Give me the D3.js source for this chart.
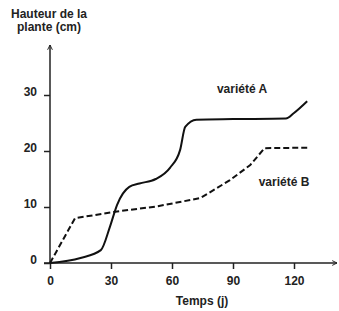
<!DOCTYPE html>
<html>
<head>
<meta charset="utf-8">
<script src="https://cdn.jsdelivr.net/npm/d3@7"></script>
<style>
  body { margin: 0; background: #fff; }
  svg text { font-family: "Liberation Sans", Arial, sans-serif; font-weight: bold; fill: #222; }
  .axis path, .axis line { stroke: #222; stroke-width: 1.5; }
</style>
</head>
<body>
<svg width="339" height="311"></svg>
<script>
// growth of two plant varieties
var daysA   = [0, 15, 25, 29.5, 33, 39, 44, 52, 59, 64, 66.5, 72, 90, 116, 120, 126.5];
var heightA = [0, 0.9, 2.3, 6.5, 10.4, 13.6, 14.2, 15, 17, 20.2, 24.3, 25.6, 25.7, 25.8, 26.8, 28.9];
var daysB   = [0, 12.3, 33, 52.5, 74, 88.5, 98.5, 105.5, 126.5];
var heightB = [0, 8.0, 9.2, 10.1, 11.6, 14.8, 17.5, 20.5, 20.6];
var xTicks = [0, 30, 60, 90, 120];
var yTicks = [0, 10, 20, 30];

var svg = d3.select('svg');

var x = d3.scaleLinear().domain([0, 120]).range([50, 294]);
var y = d3.scaleLinear().domain([0, 30]).range([263, 95]);

// arrow head
svg.append('defs').append('marker')
    .attr('id', 'arrow')
    .attr('viewBox', '0 0 10 10')
    .attr('refX', 9).attr('refY', 5)
    .attr('markerWidth', 6).attr('markerHeight', 6)
    .attr('markerUnits', 'userSpaceOnUse')
    .attr('orient', 'auto')
  .append('path')
    .attr('d', 'M1,1 L9,5 L1,9')
    .attr('fill', 'none')
    .attr('stroke', '#222')
    .attr('stroke-width', 1.6);

var xAxis = svg.append('g')
    .attr('class', 'axis')
    .attr('transform', 'translate(0,' + y(0) + ')')
    .call(d3.axisBottom(x).tickValues(xTicks).tickSize(6).tickPadding(7).tickSizeOuter(0));
xAxis.select('.domain').remove();
xAxis.selectAll('text').style('font-size', '12px');

var yAxis = svg.append('g')
    .attr('class', 'axis')
    .attr('transform', 'translate(' + x(0) + ',0)')
    .call(d3.axisLeft(y).tickValues(yTicks).tickSize(6).tickPadding(7).tickSizeOuter(0));
yAxis.select('.domain').remove();
yAxis.selectAll('text').style('font-size', '12px').attr('dy', '0');

// axis lines with arrows
svg.append('line')
    .attr('x1', 44).attr('y1', y(0))
    .attr('x2', 337).attr('y2', y(0))
    .attr('stroke', '#222').attr('stroke-width', 1.5)
    .attr('marker-end', 'url(#arrow)');
svg.append('line')
    .attr('x1', x(0)).attr('y1', y(0) + 1)
    .attr('x2', x(0)).attr('y2', 45)
    .attr('stroke', '#222').attr('stroke-width', 1.5)
    .attr('marker-end', 'url(#arrow)');

var lineA = d3.line()
    .x(function(d, i) { return x(daysA[i]); })
    .y(function(d) { return y(d); })
    .curve(d3.curveMonotoneX);

var lineB = d3.line()
    .x(function(d, i) { return x(daysB[i]); })
    .y(function(d) { return y(d); })
    .curve(d3.curveLinear);

svg.append('path')
    .attr('d', lineA(heightA))
    .attr('fill', 'none')
    .attr('stroke', '#111')
    .attr('stroke-width', 2);

svg.append('path')
    .attr('d', lineB(heightB))
    .attr('fill', 'none')
    .attr('stroke', '#111')
    .attr('stroke-width', 2)
    .attr('stroke-dasharray', '6,3');

// labels
svg.append('text')
    .attr('x', 242).attr('y', 93)
    .attr('text-anchor', 'middle')
    .style('font-size', '12px')
    .text('variété A');

svg.append('text')
    .attr('x', 284).attr('y', 186)
    .attr('text-anchor', 'middle')
    .style('font-size', '12px')
    .text('variété B');

svg.append('text')
    .attr('x', 202).attr('y', 305)
    .attr('text-anchor', 'middle')
    .style('font-size', '12px')
    .text('Temps (j)');

var title = svg.append('text')
    .attr('x', 49).attr('y', 18)
    .attr('text-anchor', 'middle')
    .style('font-size', '12px');
title.append('tspan').attr('x', 49).text('Hauteur de la');
title.append('tspan').attr('x', 49).attr('dy', 13).text('plante (cm)');
</script>
</body>
</html>
